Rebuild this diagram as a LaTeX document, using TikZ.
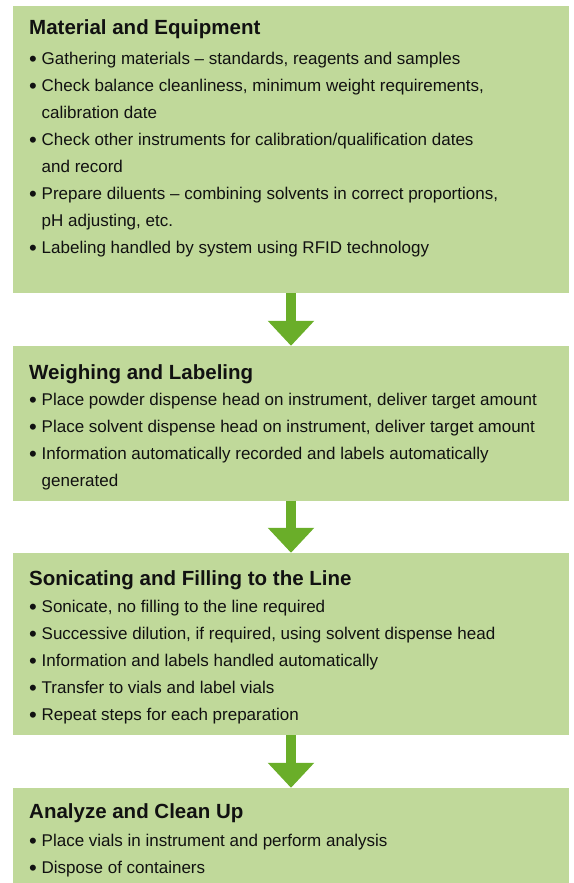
\documentclass[tikz,border=0pt]{standalone}
\usepackage{fontspec}
\setmainfont{Liberation Sans}
\usepackage{tikz}
\usetikzlibrary{arrows.meta, positioning}
\usepackage{xcolor}
\definecolor{stepgreen}{HTML}{C0D99A}
\definecolor{arrowgreen}{HTML}{6AAE29}
\definecolor{steptext}{HTML}{111111}

\newcommand{\stepbullet}{\makebox[12.5pt][l]{\raisebox{-2.2pt}{\scalebox{1.3}{\textbullet}}}}
\newcommand{\stepindent}{\hspace*{12.5pt}}

\begin{document}
\begin{tikzpicture}[
  x=1pt, y=-1pt,
  stepbox/.style={fill=stepgreen, draw=none, inner sep=0pt,
    minimum width=556pt},
  steptitle/.style={anchor=base west, inner sep=0pt, text=steptext,
    font=\fontsize{20.5}{24}\selectfont\bfseries},
  steplist/.style={anchor=north west, inner sep=0pt, align=left,
    text=steptext, font=\fontsize{17}{27}\selectfont},
  flow/.style={arrowgreen, line width=10pt,
    -{Triangle[width=45pt, length=25pt]}}
]
  \useasboundingbox (0,0) rectangle (573,883);

  % Boxes
  \node[stepbox, minimum height=287pt]   (mat)   at (291, 149.5) {};
  \node[stepbox, minimum height=154.5pt] (weigh) at (291, 423.25) {};
  \node[stepbox, minimum height=182pt]   (soni)  at (291, 644) {};
  \node[stepbox, minimum height=95pt]    (anal)  at (291, 835.5) {};

  % Arrows between steps
  \draw[flow] (mat.south) -- (weigh.north);
  \draw[flow] (weigh.south) -- (soni.north);
  \draw[flow] (soni.south) -- (anal.north);

  % Material and Equipment
  \node[steptitle] (mattitle) at (29, 35) {Material and Equipment};
  \node[steplist] (matlist) at (29, 51.5) {%
    \stepbullet Gathering materials -- standards, reagents and samples\\
    \stepbullet Check balance cleanliness, minimum weight requirements,\\
    \stepindent calibration date\\
    \stepbullet Check other instruments for calibration/qualification dates\\
    \stepindent and record\\
    \stepbullet Prepare diluents -- combining solvents in correct proportions,\\
    \stepindent pH adjusting, etc.\\
    \stepbullet Labeling handled by system using RFID technology};

  % Weighing and Labeling
  \node[steptitle] (weightitle) at (29, 379) {Weighing and Labeling};
  \node[steplist] (weighlist) at (29, 393) {%
    \stepbullet Place powder dispense head on instrument, deliver target amount\\
    \stepbullet Place solvent dispense head on instrument, deliver target amount\\
    \stepbullet Information automatically recorded and labels automatically\\
    \stepindent generated};

  % Sonicating and Filling to the Line
  \node[steptitle] (sonititle) at (29, 585.5) {Sonicating and Filling to the Line};
  \node[steplist] (sonilist) at (29, 600) {%
    \stepbullet Sonicate, no filling to the line required\\
    \stepbullet Successive dilution, if required, using solvent dispense head\\
    \stepbullet Information and labels handled automatically\\
    \stepbullet Transfer to vials and label vials\\
    \stepbullet Repeat steps for each preparation};

  % Analyze and Clean Up
  \node[steptitle] (analtitle) at (29, 818.5) {Analyze and Clean Up};
  \node[steplist] (anallist) at (29, 834) {%
    \stepbullet Place vials in instrument and perform analysis\\
    \stepbullet Dispose of containers};
\end{tikzpicture}
\end{document}
